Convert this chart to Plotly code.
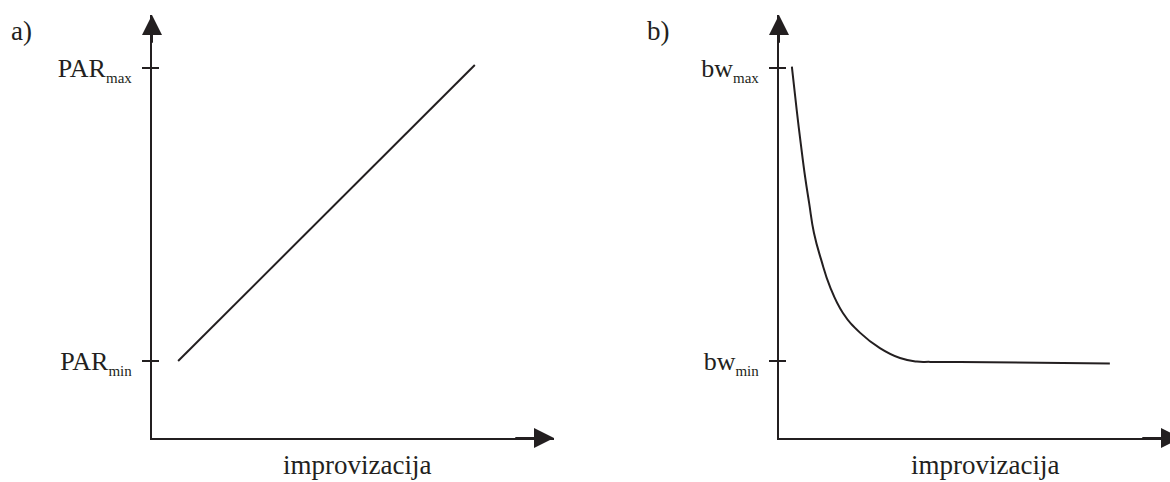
import plotly.graph_objects as go

# ---- data (levels: 1 = min, 2 = max) ----
improv_a = [0.065, 0.803]
par = [1.0, 2.01]

improv_b = [0.032, 0.044, 0.054, 0.065, 0.075, 0.087, 0.105, 0.127, 0.159,
            0.202, 0.251, 0.301, 0.343, 0.376, 0.450, 0.823]
bw = [2.005, 1.857, 1.744, 1.628, 1.539, 1.437, 1.345, 1.253, 1.164,
      1.096, 1.044, 1.010, 0.998, 0.997, 0.9966, 0.9915]

level_vals = [1, 2]
par_ticks = ["PAR<sub><span style='font-size:15px'>min</span></sub>",
             "PAR<sub><span style='font-size:15px'>max</span></sub>"]
bw_ticks = ["bw<sub><span style='font-size:15px'>min</span></sub>",
            "bw<sub><span style='font-size:15px'>max</span></sub>"]
x_title = "improvizacija"

# ---- page geometry (pixels) ----
W, H = 1170, 482
ORIGIN_Y, TOP_Y = 438, 15
LEFT_X0, RIGHT_X0, AXIS_LEN = 152, 779, 402
MIN_PX, MAX_PX = 361, 68
UNIT = MIN_PX - MAX_PX

INK = "#231f20"
FONT = "Liberation Serif"

y_range = [1 - (ORIGIN_Y - MIN_PX) / UNIT, 2 + (MAX_PX - TOP_Y) / UNIT]
y_dom = [1 - ORIGIN_Y / H, 1 - TOP_Y / H]

fig = go.Figure()

fig.add_trace(go.Scatter(x=improv_a, y=par, mode="lines",
                         line=dict(color=INK, width=2), xaxis="x", yaxis="y",
                         showlegend=False, hoverinfo="skip"))
fig.add_trace(go.Scatter(x=improv_b, y=bw, mode="lines",
                         line=dict(color=INK, width=2, shape="spline", smoothing=1.3),
                         xaxis="x2", yaxis="y2", showlegend=False, hoverinfo="skip"))

axis_common = dict(showgrid=False, zeroline=False, showline=True,
                   linecolor=INK, linewidth=2, fixedrange=True)

ytick_common = dict(tickvals=level_vals, ticks="outside", ticklen=8, tickwidth=1.5,
                    tickcolor=INK, ticklabelstandoff=5,
                    tickfont=dict(family=FONT, size=26, color=INK))

fig.update_layout(
    width=W, height=H,
    margin=dict(l=0, r=0, t=0, b=0),
    paper_bgcolor="white", plot_bgcolor="white",
    xaxis=dict(domain=[LEFT_X0 / W, (LEFT_X0 + AXIS_LEN) / W], range=[0, 1],
               anchor="y", showticklabels=False, ticks="", **axis_common),
    yaxis=dict(domain=y_dom, range=y_range, anchor="x", ticktext=par_ticks,
               **ytick_common, **axis_common),
    xaxis2=dict(domain=[RIGHT_X0 / W, 1], range=[0, (W - RIGHT_X0) / AXIS_LEN],
                anchor="y2", showticklabels=False, ticks="", **axis_common),
    yaxis2=dict(domain=y_dom, range=y_range, anchor="x2", ticktext=bw_ticks,
                **ytick_common, **axis_common),
    # inner halves of the level ticks, so each tick crosses its axis
    yaxis3=dict(overlaying="y", anchor="x", range=y_range, tickvals=level_vals,
                ticks="inside", ticklen=7, tickwidth=1.5, tickcolor=INK,
                showticklabels=False, showgrid=False, zeroline=False, showline=False),
    yaxis4=dict(overlaying="y2", anchor="x2", range=y_range, tickvals=level_vals,
                ticks="inside", ticklen=7, tickwidth=1.5, tickcolor=INK,
                showticklabels=False, showgrid=False, zeroline=False, showline=False),
)

# empty traces so the overlay axes are drawn
fig.add_trace(go.Scatter(x=[None], y=[None], xaxis="x", yaxis="y3", showlegend=False))
fig.add_trace(go.Scatter(x=[None], y=[None], xaxis="x2", yaxis="y4", showlegend=False))

arrow = dict(text="", showarrow=True, arrowhead=2, arrowsize=2.0, arrowwidth=2,
             arrowcolor=INK, standoff=0)
for xa, ya in (("x", "y"), ("x2", "y2")):
    # vertical axis arrow
    fig.add_annotation(x=0, y=y_range[1], ax=0, ay=y_range[1] - 0.1,
                       xref=xa, yref=ya, axref=xa, ayref=ya, **arrow)
    # horizontal axis arrow
    fig.add_annotation(x=1, y=y_range[0], ax=0.9, ay=y_range[0],
                       xref=xa, yref=ya, axref=xa, ayref=ya, **arrow)

label_font = dict(family=FONT, size=27, color=INK)
fig.add_annotation(x=9 / W, y=1 - 31 / H, xref="paper", yref="paper", text="a)",
                   showarrow=False, xanchor="left", yanchor="middle", font=label_font)
fig.add_annotation(x=645 / W, y=1 - 31 / H, xref="paper", yref="paper", text="b)",
                   showarrow=False, xanchor="left", yanchor="middle", font=label_font)

title_font = dict(family=FONT, size=27, color=INK)
fig.add_annotation(x=357 / W, y=1 - 465 / H, xref="paper", yref="paper", text=x_title,
                   showarrow=False, xanchor="center", yanchor="middle", font=title_font)
fig.add_annotation(x=985 / W, y=1 - 465 / H, xref="paper", yref="paper", text=x_title,
                   showarrow=False, xanchor="center", yanchor="middle", font=title_font)

fig.write_html("out.html")
